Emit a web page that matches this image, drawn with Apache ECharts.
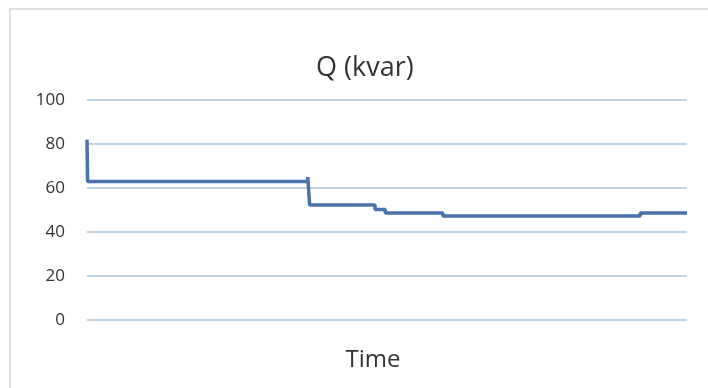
<!DOCTYPE html>
<html>
<head>
<meta charset="utf-8">
<script src="https://cdn.jsdelivr.net/npm/echarts@6/dist/echarts.min.js"></script>
<style>
html,body{margin:0;padding:0;background:#fff;}
#frame{position:absolute;left:9px;top:8px;width:699px;height:380px;border-top:2px solid #e2e2e2;border-left:2px solid #e2e2e2;box-sizing:border-box;}
#chart{position:absolute;left:0;top:0;width:708px;height:388px;}
</style>
</head>
<body>
<div id="frame"></div>
<div id="chart"></div>
<script>
// Time (relative, 0..100) at which each level starts, and Q value (kvar)
const times  = [0,  0.1, 36.8, 37.1, 48.0, 49.7, 59.3, 92.2, 100];
const qValues = [82, 63,  65,   52.3, 50.2, 48.6, 47.3, 48.6, 48.6];
const yTicks = [0, 20, 40, 60, 80, 100];

const chart = echarts.init(document.getElementById('chart'));
chart.setOption({
  backgroundColor: 'transparent',
  animation: false,
  title: {
    text: 'Q (kvar)',
    left: 311,
    top: 50,
    textStyle: {color: '#333333', fontSize: 27, fontWeight: 'normal', fontFamily: 'Open Sans'}
  },
  grid: {left: 87, right: 21, top: 100, bottom: 68},
  xAxis: {
    type: 'value',
    min: 0, max: 100,
    name: 'Time',
    nameLocation: 'middle',
    nameGap: 28,
    nameTextStyle: {color: '#333333', fontSize: 24, fontFamily: 'Open Sans', padding: [0, 28, 0, 0]},
    axisLine: {show: false},
    axisTick: {show: false},
    axisLabel: {show: false},
    splitLine: {show: false}
  },
  yAxis: {
    type: 'value',
    min: yTicks[0], max: yTicks[yTicks.length - 1], interval: 20,
    axisLine: {show: false},
    axisTick: {show: false},
    axisLabel: {color: '#333333', fontSize: 17, margin: 22, fontFamily: 'Open Sans'},
    splitLine: {lineStyle: {color: '#a9c6dc', width: 1.5}}
  },
  series: [{
    type: 'line',
    step: 'end',
    data: times.map((t, i) => [t, qValues[i]]),
    showSymbol: false,
    lineStyle: {color: '#4a72ad', width: 3.5}
  }]
});
</script>
</body>
</html>
